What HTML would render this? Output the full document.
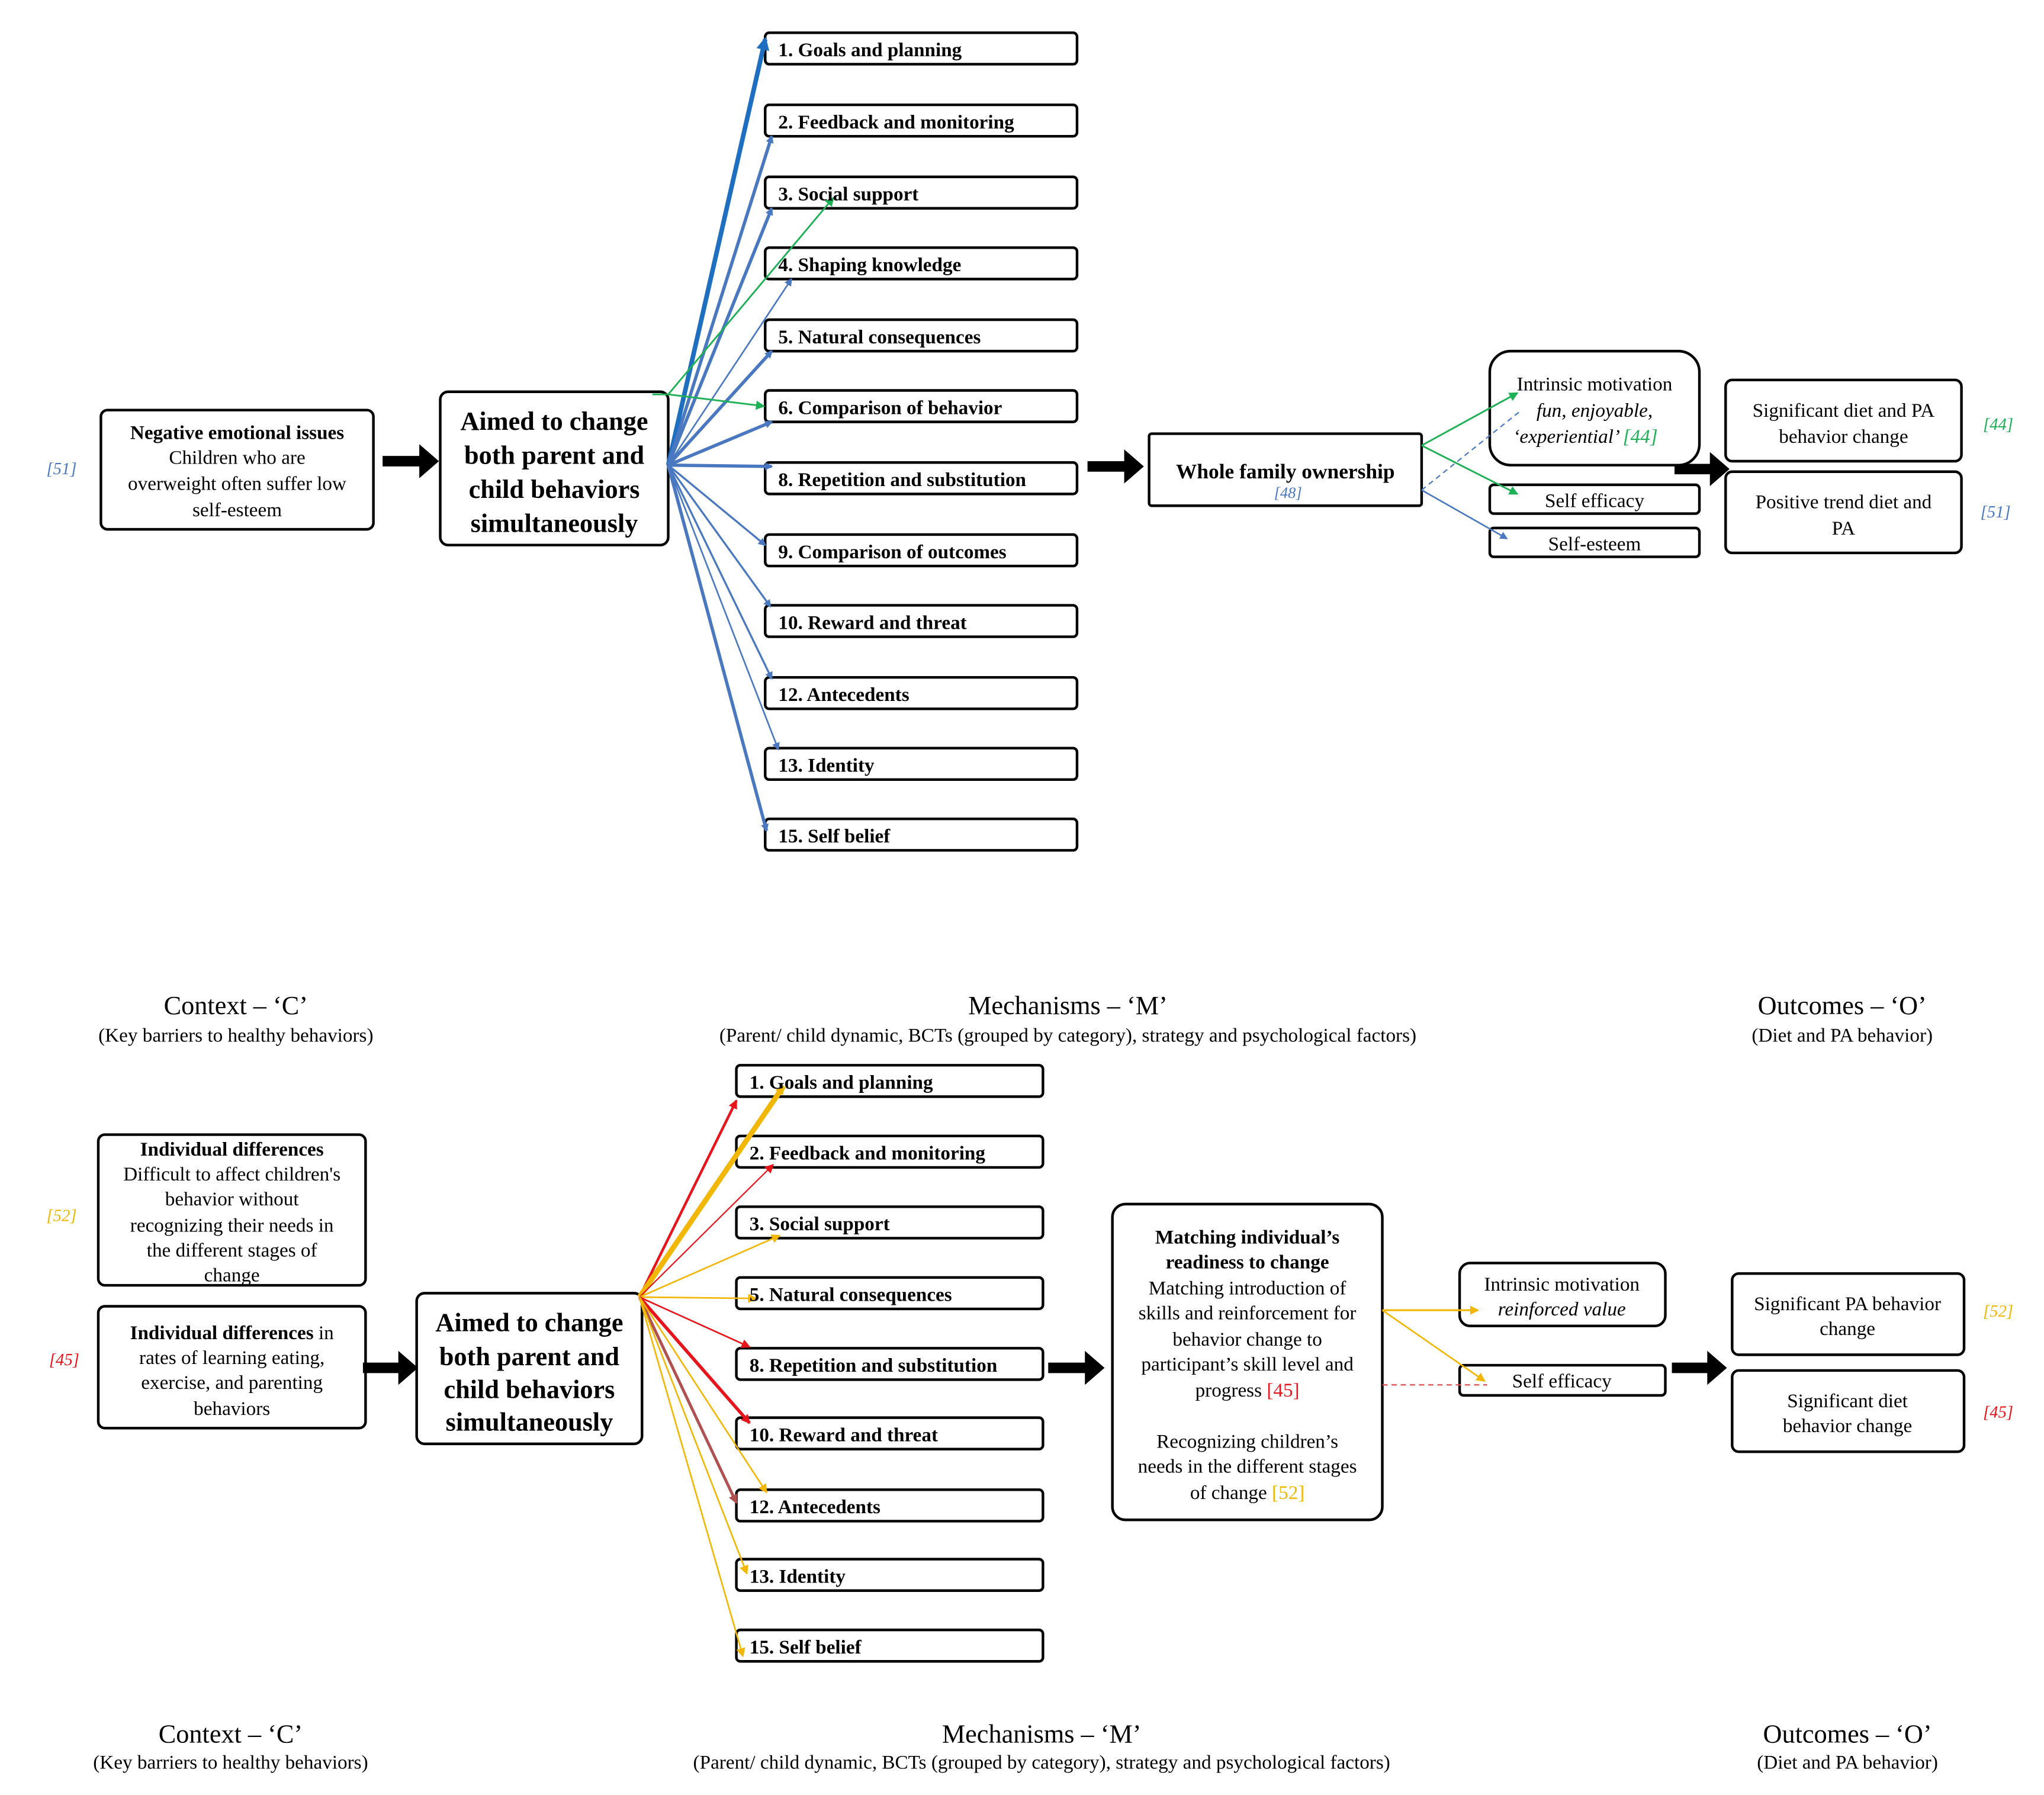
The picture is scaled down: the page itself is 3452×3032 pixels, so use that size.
<!DOCTYPE html>
<html><head><meta charset="utf-8"><style>
html,body{margin:0;padding:0;background:#fff;}
svg{display:block;}
text{font-family:"Liberation Serif",serif;}
</style></head><body>
<svg width="3452" height="3032" viewBox="0 0 1560 1370" preserveAspectRatio="none" xmlns="http://www.w3.org/2000/svg">
<defs>
<marker id="mb" markerWidth="6" markerHeight="6" refX="5" refY="3" orient="auto" markerUnits="userSpaceOnUse"><path d="M0,0 L6,3 L0,6 z" fill="#4a78c0"/></marker>
<marker id="mbd" markerWidth="10" markerHeight="10" refX="8" refY="5" orient="auto" markerUnits="userSpaceOnUse"><path d="M0,0 L10,5 L0,10 z" fill="#1f6fc0"/></marker>
<marker id="mg" markerWidth="7" markerHeight="7" refX="6" refY="3.5" orient="auto" markerUnits="userSpaceOnUse"><path d="M0,0 L7,3.5 L0,7 z" fill="#1db055"/></marker>
<marker id="mr" markerWidth="7" markerHeight="7" refX="6" refY="3.5" orient="auto" markerUnits="userSpaceOnUse"><path d="M0,0 L7,3.5 L0,7 z" fill="#e8141c"/></marker>
<marker id="my" markerWidth="7" markerHeight="7" refX="6" refY="3.5" orient="auto" markerUnits="userSpaceOnUse"><path d="M0,0 L7,3.5 L0,7 z" fill="#f2b705"/></marker>
<marker id="mbr" markerWidth="7" markerHeight="7" refX="6" refY="3.5" orient="auto" markerUnits="userSpaceOnUse"><path d="M0,0 L7,3.5 L0,7 z" fill="#b05050"/></marker>
</defs>
<g fill="#fff" stroke="#000" stroke-width="2">
<!-- top BCT boxes -->
<rect x="584" y="25" width="238" height="24" rx="3"/>
<rect x="584" y="80" width="238" height="24" rx="3"/>
<rect x="584" y="135" width="238" height="24" rx="3"/>
<rect x="584" y="189" width="238" height="24" rx="3"/>
<rect x="584" y="244" width="238" height="24" rx="3"/>
<rect x="584" y="298" width="238" height="24" rx="3"/>
<rect x="584" y="353" width="238" height="24" rx="3"/>
<rect x="584" y="408" width="238" height="24" rx="3"/>
<rect x="584" y="462" width="238" height="24" rx="3"/>
<rect x="584" y="517" width="238" height="24" rx="3"/>
<rect x="584" y="571" width="238" height="24" rx="3"/>
<rect x="584" y="625" width="238" height="24" rx="3"/>
<rect x="77" y="313" width="208" height="91" rx="5"/>
<rect x="336" y="299" width="174" height="117" rx="6"/>
<rect x="877" y="331" width="208" height="55" rx="2"/>
<rect x="1137" y="268" width="160" height="87" rx="16"/>
<rect x="1137" y="370" width="160" height="22" rx="3"/>
<rect x="1137" y="403" width="160" height="22" rx="3"/>
<rect x="1317" y="290" width="180" height="62" rx="5"/>
<rect x="1317" y="360" width="180" height="62" rx="5"/>
<!-- bottom -->
<rect x="562" y="813" width="234" height="24" rx="3"/>
<rect x="562" y="867" width="234" height="24" rx="3"/>
<rect x="562" y="921" width="234" height="24" rx="3"/>
<rect x="562" y="975" width="234" height="24" rx="3"/>
<rect x="562" y="1029" width="234" height="24" rx="3"/>
<rect x="562" y="1082" width="234" height="24" rx="3"/>
<rect x="562" y="1137" width="234" height="24" rx="3"/>
<rect x="562" y="1190" width="234" height="24" rx="3"/>
<rect x="562" y="1244" width="234" height="24" rx="3"/>
<rect x="75" y="866" width="204" height="115" rx="5"/>
<rect x="75" y="997" width="204" height="93" rx="5"/>
<rect x="318" y="987" width="172" height="115" rx="6"/>
<rect x="849" y="919" width="206" height="241" rx="10"/>
<rect x="1114" y="964" width="157" height="48" rx="8"/>
<rect x="1114" y="1042" width="157" height="23" rx="3"/>
<rect x="1322" y="972" width="177" height="62" rx="5"/>
<rect x="1322" y="1046" width="177" height="62" rx="5"/>
</g>
<!-- block arrows -->
<g fill="#000">
<path d="M292,348 h28 v-9 l15,13 l-15,13 v-9 h-28z"/>
<path d="M830,352 h28 v-9 l15,13 l-15,13 v-9 h-28z"/>
<path d="M1278,354 h27 v-9 l15,13 l-15,13 v-9 h-27z"/>
<path d="M277,1040 h27 v-9 l15,13 l-15,13 v-9 h-27z"/>
<path d="M800,1040 h28 v-9 l15,13 l-15,13 v-9 h-28z"/>
<path d="M1276,1040 h27 v-9 l15,13 l-15,13 v-9 h-27z"/>
</g>
<!-- top fan -->
<g stroke="#4a78c0" fill="none">
<line x1="510" y1="355" x2="584" y2="30" stroke="#1f6fc0" stroke-width="3.5" marker-end="url(#mbd)"/>
<line x1="510" y1="355" x2="589" y2="104" stroke-width="2.5" marker-end="url(#mb)"/>
<line x1="510" y1="355" x2="589" y2="159" stroke-width="2.5" marker-end="url(#mb)"/>
<line x1="510" y1="355" x2="604" y2="213" stroke-width="1.2" marker-end="url(#mb)"/>
<line x1="510" y1="355" x2="589" y2="268" stroke-width="2.5" marker-end="url(#mb)"/>
<line x1="510" y1="355" x2="589" y2="322" stroke-width="2.5" marker-end="url(#mb)"/>
<line x1="510" y1="355" x2="589" y2="356" stroke-width="2.5" marker-end="url(#mb)"/>
<line x1="510" y1="355" x2="584" y2="416" stroke-width="1.5" marker-end="url(#mb)"/>
<line x1="510" y1="355" x2="588" y2="463" stroke-width="1.5" marker-end="url(#mb)"/>
<line x1="510" y1="355" x2="589" y2="518" stroke-width="1.5" marker-end="url(#mb)"/>
<line x1="510" y1="355" x2="594" y2="572" stroke-width="1.2" marker-end="url(#mb)"/>
<line x1="510" y1="355" x2="585" y2="634" stroke-width="2.5" marker-end="url(#mb)"/>
</g>
<g stroke="#1db055" fill="none" stroke-width="1.3">
<path d="M498,301 L510,301 L636,151" marker-end="url(#mg)"/>
<line x1="510" y1="301" x2="583" y2="310" marker-end="url(#mg)"/>
<line x1="1085" y1="340" x2="1158" y2="300" marker-end="url(#mg)"/>
<line x1="1085" y1="340" x2="1158" y2="377" marker-end="url(#mg)"/>
</g>
<line x1="1085" y1="374" x2="1160" y2="314" stroke="#4a78c0" stroke-width="1" stroke-dasharray="4,3"/>
<line x1="1085" y1="374" x2="1150" y2="411" stroke="#4a78c0" stroke-width="1.2" marker-end="url(#mb)"/>
<!-- bottom fan -->
<g fill="none">
<line x1="488" y1="990" x2="562" y2="840" stroke="#e8141c" stroke-width="2" marker-end="url(#mr)"/>
<line x1="488" y1="990" x2="598" y2="829" stroke="#f2b705" stroke-width="4" marker-end="url(#my)"/>
<line x1="488" y1="990" x2="590" y2="889" stroke="#e8141c" stroke-width="1" marker-end="url(#mr)"/>
<line x1="488" y1="990" x2="595" y2="943" stroke="#f2b705" stroke-width="1.2" marker-end="url(#my)"/>
<line x1="488" y1="990" x2="577" y2="991" stroke="#f2b705" stroke-width="1.2" marker-end="url(#my)"/>
<line x1="488" y1="990" x2="572" y2="1028" stroke="#e8141c" stroke-width="1.2" marker-end="url(#mr)"/>
<line x1="488" y1="990" x2="572" y2="1086" stroke="#e8141c" stroke-width="2.5" marker-end="url(#mr)"/>
<line x1="488" y1="990" x2="562" y2="1147" stroke="#b05050" stroke-width="2.2" marker-end="url(#mbr)"/>
<line x1="488" y1="990" x2="585" y2="1139" stroke="#f2b705" stroke-width="1.2" marker-end="url(#my)"/>
<line x1="488" y1="990" x2="570" y2="1201" stroke="#f2b705" stroke-width="1.2" marker-end="url(#my)"/>
<line x1="488" y1="990" x2="567" y2="1264" stroke="#f2b705" stroke-width="1.2" marker-end="url(#my)"/>
<line x1="1055" y1="1000" x2="1128" y2="1000" stroke="#f2b705" stroke-width="1.5" marker-end="url(#my)"/>
<line x1="1055" y1="1000" x2="1133" y2="1054" stroke="#f2b705" stroke-width="1.2" marker-end="url(#my)"/>
<line x1="1055" y1="1057" x2="1135" y2="1057" stroke="#e05050" stroke-width="1" stroke-dasharray="4,3"/>
</g>
<!-- texts -->
<g font-size="15" font-weight="bold" fill="#000">
<text x="594" y="43">1. Goals and planning</text>
<text x="594" y="98">2. Feedback and monitoring</text>
<text x="594" y="153">3. Social support</text>
<text x="594" y="207">4. Shaping knowledge</text>
<text x="594" y="262">5. Natural consequences</text>
<text x="594" y="316">6. Comparison of behavior</text>
<text x="594" y="371">8. Repetition and substitution</text>
<text x="594" y="426">9. Comparison of outcomes</text>
<text x="594" y="480">10. Reward and threat</text>
<text x="594" y="535">12. Antecedents</text>
<text x="594" y="589">13. Identity</text>
<text x="594" y="643">15. Self belief</text>
<text x="572" y="831">1. Goals and planning</text>
<text x="572" y="885">2. Feedback and monitoring</text>
<text x="572" y="939">3. Social support</text>
<text x="572" y="993">5. Natural consequences</text>
<text x="572" y="1047">8. Repetition and substitution</text>
<text x="572" y="1100">10. Reward and threat</text>
<text x="572" y="1155">12. Antecedents</text>
<text x="572" y="1208">13. Identity</text>
<text x="572" y="1262">15. Self belief</text>
</g>
<g text-anchor="middle" fill="#000">
<g font-size="15"><text x="181" y="335" font-weight="bold">Negative emotional issues</text><text x="181" y="354">Children who are</text><text x="181" y="374">overweight often suffer low</text><text x="181" y="394">self-esteem</text></g>
<g font-size="20" font-weight="bold"><text x="423" y="328">Aimed to change</text><text x="423" y="354">both parent and</text><text x="423" y="380">child behaviors</text><text x="423" y="406">simultaneously</text></g>
<text x="981" y="365" font-size="16" font-weight="bold">Whole family ownership</text>
<text x="983" y="380" font-size="12" font-style="italic" fill="#4a78c0">[48]</text>
<g font-size="15"><text x="1217" y="298">Intrinsic motivation</text><text x="1217" y="318" font-style="italic">fun, enjoyable,</text><text x="1210" y="338" font-style="italic">‘experiential’ <tspan fill="#1db055">[44]</tspan></text>
<text x="1217" y="387">Self efficacy</text><text x="1217" y="420">Self-esteem</text>
<text x="1407" y="318">Significant diet and PA</text><text x="1407" y="338">behavior change</text>
<text x="1407" y="388">Positive trend diet and</text><text x="1407" y="408">PA</text></g>
<g font-size="13" font-style="italic"><text x="47" y="362" fill="#4a78c0">[51]</text><text x="1525" y="328" fill="#1db055">[44]</text><text x="1523" y="395" fill="#4a78c0">[51]</text>
<text x="47" y="932" fill="#f2b705">[52]</text><text x="49" y="1042" fill="#e8141c">[45]</text><text x="1525" y="1005" fill="#f2b705">[52]</text><text x="1525" y="1082" fill="#e8141c">[45]</text></g>
<!-- headers -->
<g font-size="20"><text x="180" y="774">Context – ‘C’</text><text x="815" y="774">Mechanisms – ‘M’</text><text x="1406" y="774">Outcomes – ‘O’</text>
<text x="176" y="1330">Context – ‘C’</text><text x="795" y="1330">Mechanisms – ‘M’</text><text x="1410" y="1330">Outcomes – ‘O’</text></g>
<g font-size="15"><text x="180" y="795">(Key barriers to healthy behaviors)</text><text x="815" y="795">(Parent/ child dynamic, BCTs (grouped by category), strategy and psychological factors)</text><text x="1406" y="795">(Diet and PA behavior)</text>
<text x="176" y="1350">(Key barriers to healthy behaviors)</text><text x="795" y="1350">(Parent/ child dynamic, BCTs (grouped by category), strategy and psychological factors)</text><text x="1410" y="1350">(Diet and PA behavior)</text></g>
<g font-size="15"><text x="177" y="882" font-weight="bold">Individual differences</text><text x="177" y="901">Difficult to affect children's</text><text x="177" y="920">behavior without</text><text x="177" y="940">recognizing their needs in</text><text x="177" y="959">the different stages of</text><text x="177" y="978">change</text>
<text x="177" y="1022"><tspan font-weight="bold">Individual differences</tspan> in</text><text x="177" y="1041">rates of learning eating,</text><text x="177" y="1060">exercise, and parenting</text><text x="177" y="1080">behaviors</text></g>
<g font-size="20" font-weight="bold"><text x="404" y="1016">Aimed to change</text><text x="404" y="1042">both parent and</text><text x="404" y="1067">child behaviors</text><text x="404" y="1092">simultaneously</text></g>
<g font-size="15"><text x="952" y="949" font-weight="bold">Matching individual’s</text><text x="952" y="968" font-weight="bold">readiness to change</text><text x="952" y="988">Matching introduction of</text><text x="952" y="1007">skills and reinforcement for</text><text x="952" y="1027">behavior change to</text><text x="952" y="1046">participant’s skill level and</text><text x="952" y="1066">progress <tspan fill="#e8141c">[45]</tspan></text>
<text x="952" y="1105">Recognizing children’s</text><text x="952" y="1124">needs in the different stages</text><text x="952" y="1144">of change <tspan fill="#f2b705">[52]</tspan></text>
<text x="1192" y="985">Intrinsic motivation</text><text x="1192" y="1004" font-style="italic">reinforced value</text><text x="1192" y="1059">Self efficacy</text>
<text x="1410" y="1000">Significant PA behavior</text><text x="1410" y="1019">change</text><text x="1410" y="1074">Significant diet</text><text x="1410" y="1093">behavior change</text></g>
</g>
</svg>
</body></html>
